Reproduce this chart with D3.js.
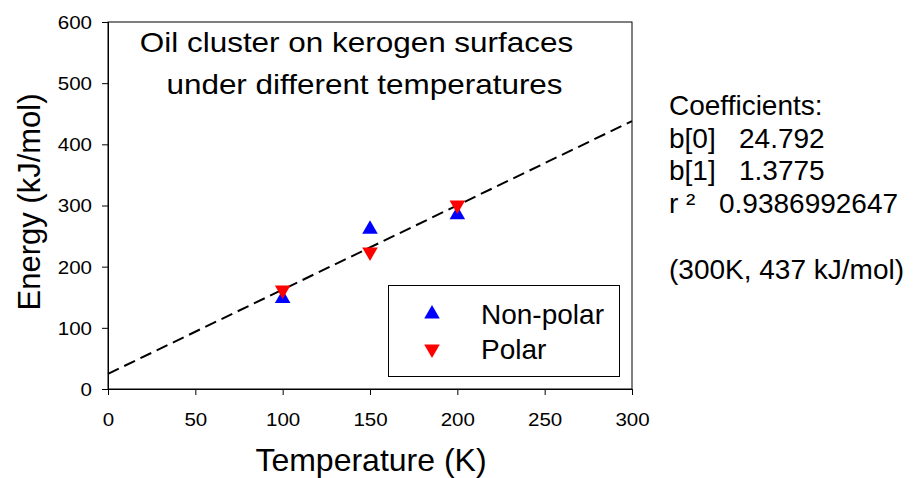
<!DOCTYPE html>
<html><head><meta charset="utf-8">
<script src="https://cdn.jsdelivr.net/npm/d3@7"></script>
<style>body{margin:0;background:#fff}svg{display:block}text{font-family:"Liberation Sans",Arial,sans-serif;fill:#000}</style>
</head><body>
<script>
const temps = [100, 150, 200];
const nonPolar = [148, 261, 285];
const polar = [162, 224, 301];
const xTicks = [0, 50, 100, 150, 200, 250, 300];
const yTicks = [0, 100, 200, 300, 400, 500, 600];
const b0 = 24.792, b1 = 1.3775;
const fitRange = [0, 300];
const titleLines = ["Oil cluster on kerogen surfaces", "under different temperatures"];
const legendLabels = ["Non-polar", "Polar"];
const coefLines = [["Coefficients:", ""], ["b[0]", "24.792"], ["b[1]", "1.3775"], ["r ²", "0.9386992647"], ["", ""], ["(300K, 437 kJ/mol)", ""]];

const W = 917, H = 478;
const svg = d3.select("body").append("svg").attr("width", W).attr("height", H);
const x = d3.scaleLinear().domain([0, 300]).range([108, 632]);
const y = d3.scaleLinear().domain([0, 600]).range([389, 22]);

// frame
svg.append("rect").attr("x", 108).attr("y", 22).attr("width", 524).attr("height", 367)
  .attr("fill", "none").attr("stroke", "#000").attr("stroke-width", 1);

const sx = 1.11;
const xa = svg.append("g").attr("transform", "translate(0,389)")
  .call(d3.axisBottom(x).tickValues(xTicks).tickSize(6).tickFormat(d3.format("d")));
const ya = svg.append("g").attr("transform", "translate(108,0)")
  .call(d3.axisLeft(y).tickValues(yTicks).tickSize(6).tickFormat(d3.format("d")));
[xa, ya].forEach(g => {
  g.select(".domain").attr("stroke", "#000");
  g.selectAll("line").attr("stroke", "#000");
  g.selectAll("text").attr("font-size", 18.5).attr("font-family", '"Liberation Sans",Arial,sans-serif')
    .attr("fill", "#000").attr("transform", `scale(${sx},1)`);
});
xa.selectAll("text").attr("y", 37).attr("dy", null);
ya.selectAll("text").attr("x", -16 / sx).attr("dy", "0.35em");

// fit line
svg.append("line")
  .attr("x1", x(fitRange[0])).attr("y1", y(b0 + b1 * fitRange[0]))
  .attr("x2", x(fitRange[1])).attr("y2", y(b0 + b1 * fitRange[1]))
  .attr("stroke", "#000").attr("stroke-width", 2).attr("stroke-dasharray", "12,6");

const tri = d3.symbol().type(d3.symbolTriangle).size(105);
svg.append("g").selectAll("path").data(temps).join("path")
  .attr("d", tri).attr("fill", "#0000ff")
  .attr("transform", (d, i) => `translate(${x(d)},${y(nonPolar[i])})`);
svg.append("g").selectAll("path").data(temps).join("path")
  .attr("d", tri).attr("fill", "#ff0000")
  .attr("transform", (d, i) => `translate(${x(d)},${y(polar[i])}) rotate(180)`);

// title
svg.append("g").selectAll("text").data(titleLines).join("text")
  .attr("transform", (d, i) => `translate(${i === 0 ? 356.5 : 364.5},${52 + i * 42}) scale(1.165,1)`)
  .attr("text-anchor", "middle").attr("font-size", 27).text(d => d);

// axis labels
svg.append("text").attr("x", 371).attr("y", 471).attr("text-anchor", "middle")
  .attr("font-size", 32).text("Temperature (K)");
svg.append("text").attr("transform", "translate(40,202) rotate(-90)").attr("text-anchor", "middle")
  .attr("font-size", 31).text("Energy (kJ/mol)");

// legend
svg.append("rect").attr("x", 388.5).attr("y", 285.5).attr("width", 231).attr("height", 91)
  .attr("fill", "#fff").attr("stroke", "#000").attr("stroke-width", 1);
const lg = svg.append("g");
lg.append("path").attr("d", tri).attr("fill", "#0000ff").attr("transform", "translate(432,314)");
lg.append("path").attr("d", tri).attr("fill", "#ff0000").attr("transform", "translate(432,349) rotate(180)");
lg.selectAll("text").data(legendLabels).join("text")
  .attr("x", 481).attr("y", (d, i) => 324 + i * 34.5).attr("font-size", 28).text(d => d);

// coefficients
const cg = svg.append("g");
coefLines.forEach((l, i) => {
  const yy = 115 + i * 32.7;
  cg.append("text").attr("x", 669).attr("y", yy).attr("font-size", 28).text(l[0]);
  if (l[1]) cg.append("text").attr("x", i === 3 ? 719 : 739).attr("y", yy).attr("font-size", 28).text(l[1]);
});
</script>
</body></html>
